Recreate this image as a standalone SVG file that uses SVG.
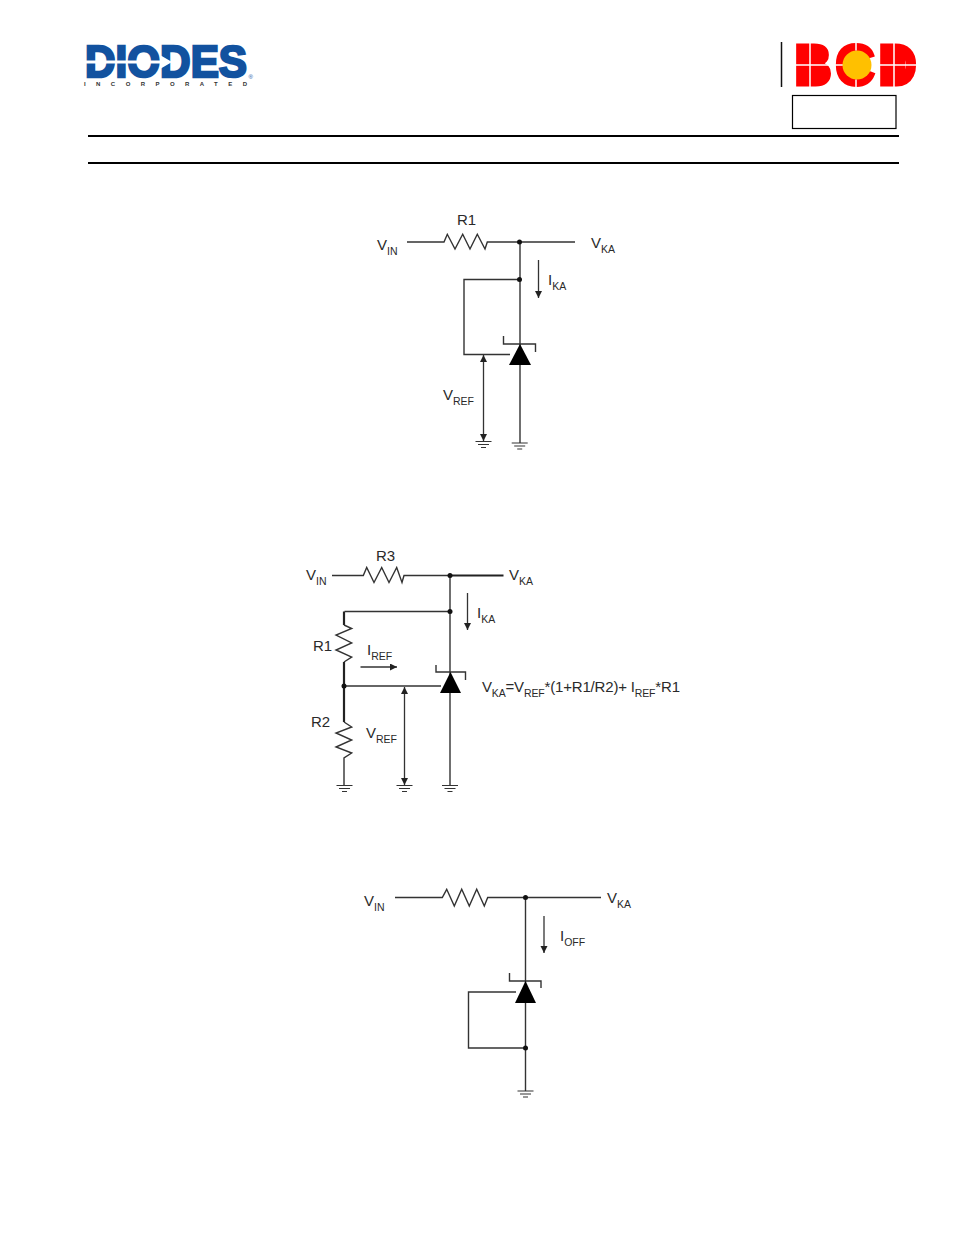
<svg xmlns="http://www.w3.org/2000/svg" width="954" height="1235" viewBox="0 0 954 1235">
<style>
text{font-family:"Liberation Sans",Arial,sans-serif;fill:#2a2a2a}
.t{font-size:15px}
.s{font-size:10.500px}
.w{fill:none;stroke:#333;stroke-width:1.400}
.k{fill:none;stroke:#222;stroke-width:2.200}
.d{fill:#111}
.g{fill:none;stroke:#333;stroke-width:1.200}
.a{fill:none;stroke:#333;stroke-width:1.300}
.f{fill:#000}
.bcd{font-weight:700;font-size:58px;fill:#f00;stroke:#f00;stroke-width:3}
</style>
<defs>
<marker id="ah" markerWidth="8" markerHeight="8" refX="7" refY="3.500" orient="auto-start-reverse" markerUnits="userSpaceOnUse"><path d="M0 0L7 3.500L0 7z" fill="#222"/></marker>
<g id="gnd"><path class="g" d="M-8 0H8M-5.500 3H5.500M-2.500 6H2.500"/></g>
</defs>
<rect width="954" height="1235" fill="#fff"/>

<g id="logo-diodes">
<text x="85" y="77" font-size="44" font-weight="700" textLength="162" lengthAdjust="spacingAndGlyphs" style="fill:#12529f;stroke:#12529f;stroke-width:2.500">DIODES</text>
<path d="M84 60.500H160V55L172 62L160 69V63.500H84z" fill="#fff"/>
<text x="84" y="86" font-size="6" font-weight="700" textLength="163" style="fill:#333">INCORPORATED</text>
<text x="248.500" y="79" font-size="6" style="fill:#12529f">®</text>
</g>

<g id="logo-bcd">
<path d="M781.500 42V87" stroke="#111" stroke-width="1.500" fill="none"/>
<rect x="797" y="46" width="24" height="36" fill="#f00"/>
<rect x="881" y="46" width="24" height="36" fill="#f00"/>
<text class="bcd" x="794" y="84.500" textLength="38" lengthAdjust="spacingAndGlyphs">B</text>
<text class="bcd" x="835" y="84.500" textLength="40" lengthAdjust="spacingAndGlyphs">C</text>
<text class="bcd" x="878" y="84.500" textLength="39" lengthAdjust="spacingAndGlyphs">D</text>
<path d="M810 40V90M894 40V90M790 65H922" stroke="#fff" stroke-width="1.500" fill="none"/>
<ellipse cx="857" cy="65" rx="14.500" ry="14.500" fill="#ffc000"/>
<path d="M856 40V50.500M856 79.500V90" stroke="#fff" stroke-width="1.500"/>
</g>

<g id="header-box"><rect x="792.500" y="95.500" width="103.500" height="33" fill="#fff" stroke="#000" stroke-width="1.200"/></g>
<g id="header-rules">
<path d="M88 136H899M88 163H899" stroke="#000" stroke-width="2" fill="none"/>
</g>

<g id="connectors">
<!-- circuit 1 -->
<path class="w" d="M407 242H444L447.300 234.300L455 249L462.700 234.300L470 249L477.300 234.300L485 249L487.300 242H575"/>
<path class="w" d="M520 242V443"/>
<path class="w" d="M520 279.500H464V354.500H510"/>
<path class="w" d="M503.500 336V344H535.500V352"/>
<path class="a" marker-end="url(#ah)" d="M538.500 260V298"/>
<path class="a" marker-start="url(#ah)" marker-end="url(#ah)" d="M483.500 355V441"/>
<!-- circuit 2 -->
<path class="w" d="M332 575.500H363.300L366.700 567.500L374 582.500L381.700 567.500L389 582.500L396.700 567.500L402 582.500L404 575.500H450"/>
<path d="M450 575.500H503.500" stroke="#222" stroke-width="2.200" fill="none"/>
<path class="w" d="M450 575.500V785"/>
<path class="w" d="M344.500 611.500H450"/>
<path class="k" d="M344 611.500V625"/>
<path class="w" d="M344 625L351.700 628.500L336 635L351.700 643L336 650L351.700 657L344 662"/>
<path class="k" d="M344 662V722"/>
<path class="w" d="M344 722L351.700 727L336 733L351.700 740L336 747L351.700 753L344 758V785"/>
<path class="w" d="M344 686H441"/>
<path class="w" d="M436 665V672H465.500V680"/>
<path class="a" marker-end="url(#ah)" d="M360.500 667H397"/>
<path class="a" marker-end="url(#ah)" d="M467.500 593V630"/>
<path class="a" marker-start="url(#ah)" marker-end="url(#ah)" d="M404.500 687V785"/>
<!-- circuit 3 -->
<path class="w" d="M395 897.500H442.300L446.700 889.300L454.300 906L461.700 889.300L469.300 906L476.700 889.300L484.300 906L487.700 897.500H601"/>
<path class="w" d="M525.500 897.500V1091"/>
<path class="w" d="M516 992H468.500V1048H525.500"/>
<path class="w" d="M509.500 973V981H541V988"/>
<path class="a" marker-end="url(#ah)" d="M544 916V953"/>
</g>

<g id="circuit-1">
<circle class="d" cx="519.500" cy="242" r="2.500"/>
<circle class="d" cx="519.500" cy="279.500" r="2.500"/>
<path class="f" d="M520 344L531 365H509z"/>
<use href="#gnd" x="483.500" y="441.500"/>
<use href="#gnd" x="519.700" y="443"/>
<text x="457" y="224.500" class="t">R1</text>
<text x="377" y="250" class="t">V<tspan class="s" dy="5">IN</tspan></text>
<text x="591" y="248" class="t">V<tspan class="s" dy="5">KA</tspan></text>
<text x="548" y="285" class="t">I<tspan class="s" dy="5">KA</tspan></text>
<text x="443" y="400" class="t">V<tspan class="s" dy="5">REF</tspan></text>
</g>

<g id="circuit-2">
<circle class="d" cx="450" cy="575.500" r="2.500"/>
<circle class="d" cx="450" cy="611.500" r="2.500"/>
<circle class="d" cx="344" cy="686" r="2.500"/>
<path class="f" d="M450.500 672L461 693H440z"/>
<use href="#gnd" x="344.500" y="785.500"/>
<use href="#gnd" x="404.500" y="785.500"/>
<use href="#gnd" x="450" y="785.500"/>
<text x="376" y="560.500" class="t">R3</text>
<text x="306" y="580" class="t">V<tspan class="s" dy="5">IN</tspan></text>
<text x="509" y="580" class="t">V<tspan class="s" dy="5">KA</tspan></text>
<text x="477" y="618" class="t">I<tspan class="s" dy="5">KA</tspan></text>
<text x="313" y="651" class="t">R1</text>
<text x="367" y="655" class="t">I<tspan class="s" dy="5">REF</tspan></text>
<text x="311" y="727" class="t">R2</text>
<text x="366" y="738" class="t">V<tspan class="s" dy="5">REF</tspan></text>
<text x="482" y="692" font-size="15" textLength="198">V<tspan class="s" dy="5">KA</tspan><tspan dy="-5">=V</tspan><tspan class="s" dy="5">REF</tspan><tspan dy="-5">*(1+R1/R2)+ I</tspan><tspan class="s" dy="5">REF</tspan><tspan dy="-5">*R1</tspan></text>
</g>

<g id="circuit-3">
<circle class="d" cx="525.500" cy="897.500" r="2.500"/>
<circle class="d" cx="525.500" cy="1048" r="2.500"/>
<path class="f" d="M525.500 981L536 1003H515z"/>
<use href="#gnd" x="525.500" y="1091"/>
<text x="364" y="906" class="t">V<tspan class="s" dy="5">IN</tspan></text>
<text x="607" y="903" class="t">V<tspan class="s" dy="5">KA</tspan></text>
<text x="560" y="941" class="t">I<tspan class="s" dy="5">OFF</tspan></text>
</g>
</svg>
